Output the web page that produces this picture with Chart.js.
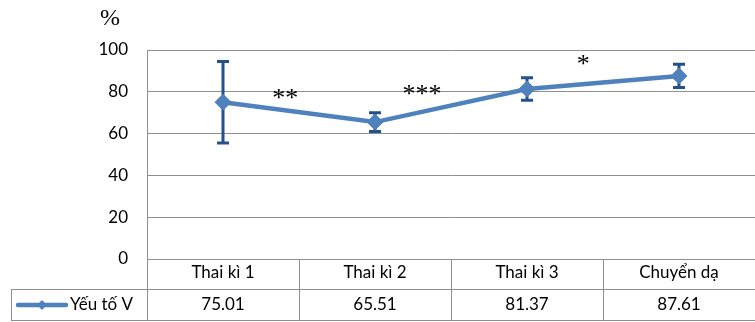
<!DOCTYPE html>
<html>
<head>
<meta charset="utf-8">
<script src="https://cdn.jsdelivr.net/npm/chart.js@4"></script>
<style>
  html, body { margin: 0; padding: 0; background: #fff; overflow: hidden; }
  canvas { display: block; }
</style>
</head>
<body>
<canvas id="c" width="755" height="322"></canvas>
<script>
// Series data
const categories = ['Thai kì 1', 'Thai kì 2', 'Thai kì 3', 'Chuyển dạ'];
const seriesName = 'Yếu tố V';
const values = [75.01, 65.51, 81.37, 87.61];
const errorMargins = [19.5, 4.5, 5.4, 5.6];

// Axis
const yTicks = [0, 20, 40, 60, 80, 100];
const unitLabel = '%';

// Significance marks between periods: text, category position, level
const markText = ['**', '***', '*'];
const markAt = [0.41, 1.31, 2.37];
const markLevel = [78.4, 80.6, 94.7];

const FONT = 'Lato, "Open Sans", sans-serif';
const SERIF = '"Liberation Serif", "DejaVu Serif", serif';
const GRID = '#8f8f8f';
const LINE = '#4F81BD';
const ERR = '#24518b';

const crisp = v => Math.round(v) + 0.5;

// Vertical error bars with caps, drawn under the line and markers
const errorBars = {
  id: 'errorBars',
  beforeDatasetsDraw(chart) {
    const { ctx, scales: { x, y } } = chart;
    ctx.save();
    ctx.strokeStyle = ERR;
    ctx.lineWidth = 3;
    values.forEach((v, i) => {
      const px = x.getPixelForValue(i);
      const top = y.getPixelForValue(v + errorMargins[i]);
      const bot = y.getPixelForValue(v - errorMargins[i]);
      ctx.beginPath();
      ctx.moveTo(px, top); ctx.lineTo(px, bot);
      ctx.moveTo(px - 6, top); ctx.lineTo(px + 6, top);
      ctx.moveTo(px - 6, bot); ctx.lineTo(px + 6, bot);
      ctx.stroke();
    });
    ctx.restore();
  }
};

// Asterisk marks and the unit label
const marks = {
  id: 'marks',
  afterDatasetsDraw(chart) {
    const { ctx, scales: { x, y } } = chart;
    ctx.save();
    ctx.fillStyle = '#000';
    ctx.textAlign = 'center';
    ctx.textBaseline = 'middle';
    ctx.font = '26px ' + SERIF;
    markText.forEach((t, i) => {
      ctx.fillText(t, x.getPixelForValue(markAt[i]), y.getPixelForValue(markLevel[i]) + 4.5);
    });
    ctx.font = '24px ' + SERIF;
    ctx.fillText(unitLabel, 110, 19);
    ctx.restore();
  }
};

// Data table under the plot: category row, then legend key + values row
const dataTable = {
  id: 'dataTable',
  afterDraw(chart) {
    const { ctx, chartArea: a, scales: { x } } = chart;
    const r1 = Math.round(a.bottom);
    const r2 = r1 + 30;
    const r3 = r2 + 32;
    const tableLeft = 11;
    const edges = [a.left];
    for (let i = 0; i < categories.length - 1; i++) {
      edges.push((x.getPixelForValue(i) + x.getPixelForValue(i + 1)) / 2);
    }
    edges.push(a.right);

    ctx.save();
    ctx.strokeStyle = GRID;
    ctx.lineWidth = 1;
    ctx.beginPath();
    ctx.moveTo(a.left, crisp(r1)); ctx.lineTo(a.right, crisp(r1));
    ctx.moveTo(tableLeft, crisp(r2)); ctx.lineTo(a.right, crisp(r2));
    ctx.moveTo(tableLeft, crisp(r3) - 1); ctx.lineTo(a.right, crisp(r3) - 1);
    edges.forEach(e => { ctx.moveTo(crisp(e), r1); ctx.lineTo(crisp(e), r3); });
    ctx.moveTo(crisp(tableLeft), r2); ctx.lineTo(crisp(tableLeft), r3);
    ctx.stroke();

    ctx.fillStyle = '#000';
    ctx.font = '17px ' + FONT;
    ctx.textAlign = 'center';
    ctx.textBaseline = 'middle';
    categories.forEach((c, i) => {
      const cx = x.getPixelForValue(i);
      ctx.fillText(c, cx, (r1 + r2) / 2 - 1);
      ctx.fillText(values[i].toFixed(2), cx, (r2 + r3) / 2);
    });

    // legend key
    const ky = (r2 + r3) / 2;
    ctx.strokeStyle = LINE;
    ctx.lineWidth = 4.5;
    ctx.lineCap = 'round';
    ctx.beginPath();
    ctx.moveTo(18, ky); ctx.lineTo(66, ky);
    ctx.stroke();
    ctx.fillStyle = LINE;
    ctx.beginPath();
    ctx.moveTo(42, ky - 5); ctx.lineTo(47, ky); ctx.lineTo(42, ky + 5); ctx.lineTo(37, ky);
    ctx.closePath();
    ctx.fill();
    ctx.fillStyle = '#000';
    ctx.textAlign = 'left';
    ctx.fillText(seriesName, 70, ky);
    ctx.restore();
  }
};

new Chart(document.getElementById('c'), {
  type: 'line',
  data: {
    labels: categories,
    datasets: [{
      label: seriesName,
      data: values,
      borderColor: LINE,
      backgroundColor: LINE,
      borderWidth: 4.5,
      pointStyle: 'rectRot',
      pointRadius: 8,
      pointBackgroundColor: LINE,
      pointBorderColor: LINE,
      pointBorderWidth: 1,
      tension: 0,
      fill: false,
      clip: false
    }]
  },
  options: {
    responsive: false,
    devicePixelRatio: 1,
    animation: false,
    events: [],
    layout: { autoPadding: false, padding: { top: 50, right: -4, bottom: 63, left: 0 } },
    plugins: { legend: { display: false }, tooltip: { enabled: false } },
    scales: {
      x: { type: 'category', display: false, offset: true },
      y: {
        min: 0,
        max: 100,
        afterBuildTicks: s => { s.ticks = yTicks.map(v => ({ value: v })); },
        afterFit: s => { s.width = 147; },
        grid: { color: GRID, drawTicks: false, lineWidth: 1 },
        border: { color: GRID },
        ticks: { padding: 19, color: '#000', font: { family: 'Lato', size: 17 } }
      }
    }
  },
  plugins: [errorBars, marks, dataTable]
});
</script>
</body>
</html>
